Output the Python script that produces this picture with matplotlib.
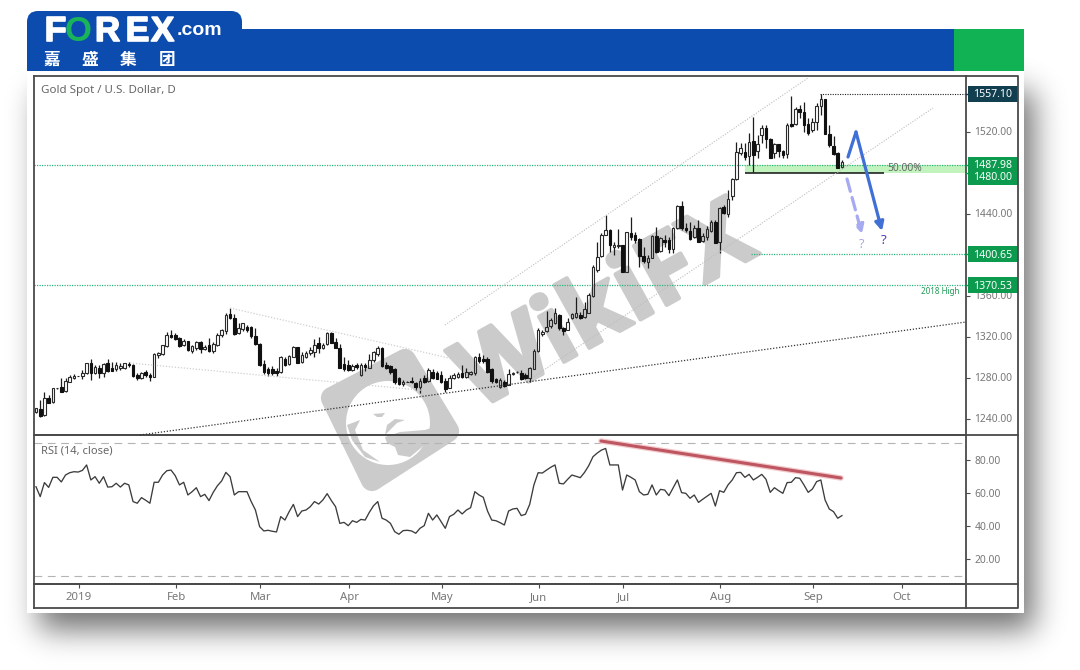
import numpy as np
import matplotlib
matplotlib.use("Agg")
import matplotlib.pyplot as plt
import matplotlib.patheffects as pe
from matplotlib.patches import Rectangle, FancyBboxPatch, Polygon, Circle

plt.rcParams['font.family'] = ['Noto Sans', 'DejaVu Sans']

W, H = 1080, 670

# daily candles
opens = [1246.5,1249.4,1243.9,1260.2,1256.3,1270,1270.9,1267.3,1276.4,1280.3,1281.9,1281.9,1284.5,1295,1285.2,1289.4,1284.5,1295,1289.4,1288.4,
	1289.7,1290.1,1293.7,1292.7,1282.9,1280.3,1285.8,1282.9,1281.3,1302.4,1303.1,1311.2,1321.9,1321.9,1318.7,1312.5,1316.1,1306.7,1309.6,1315.4,
	1308.6,1312.2,1306.7,1312.2,1321.6,1326.2,1342.1,1338.2,1323.6,1327.8,1330.1,1329.4,1321,1313.2,1293.7,1288.4,1288.4,1287.2,1286.2,1298.9,
	1293.3,1300.8,1310.6,
	1295.3,1300.8,1304.1,1305.7,1314.5,1309.6,1313.2,1323.6,1315.4,1309.6,1293.7,1292.7,1287.8,1292.7,1282.9,1292.7,1290.1,1297.6,1303.4,1309.6,
	1292.7,1291.7,1288.4,1279.7,1274.1,1276.4,1277.1,1275.4,1271.5,1280.3,1277.4,1286.2,1285.2,1282.9,1277.4,1270.6,1279.7,1280.9,1284.5,1281.3,
	1284,1284.5,1300.2,1298.2,1298.2,1288.4,1279,1271.5,1276.1,1273.2,1283.6,1285.9,1284.5,1282.9,1279.7,1288.8,1306.7,1322.9,1325.8,1330.7,
	1334,1341.5,1329.1,1326.8,
	1338.2,1339.2,1341.4,1339.8,1343.7,1360,1385.4,1399,1419.5,1424.4,1408.1,1408.8,1409.7,1383.7,1421.8,1419.5,1415.3,1399,1393.5,1396.7,
	1418.9,1404.2,1414.6,1414.6,1405.5,1426,1447.8,1426.3,1423.7,1417.2,1426,1413.6,1417.9,1423.7,1431.9,1413,1446.5,
	1439.7,1457.9,1474.1,1499.2,1500.2,1496.9,1511.2,1501.4,1517.1,1523.6,1513.2,1499.2,1507.9,1501.8,1498.2,1527.5,1527.5,1542.1,1539.2,1527.5,
	1522,1530,1545.7,1552.2,1517.7,1506.7,1499.2,1486.2]
highs = [1251,1258.5,1266.7,1263.4,1270.6,1270.3,1279.7,1279.7,1282.9,1283.6,1282.2,1287.8,1295,1298.2,1292.7,1292.7,1294.3,1298.2,1295.9,1295.9,
	1294.3,1295,1295.9,1293.3,1284.5,1286.2,1287.8,1284.5,1304.1,1305.7,1312.2,1325.2,1326.8,1324.2,1319.7,1317.7,1316.4,1312.2,1316.1,1316.1,
	1312.2,1318.7,1315.4,1323.6,1327.5,1343.1,1348,1342.1,1333.3,1334,1331.7,1330.7,1328.4,1314.5,1297.6,1290.4,1291.7,1289.4,1301.5,1300.2,
	1302.4,1311.2,1310.6,
	1305.7,1306.7,1310.6,1317.7,1320.3,1313.8,1325.2,1325.2,1318.7,1313.2,1300.8,1297.6,1293.3,1294.3,1294.3,1294.3,1303.4,1306.7,1311.2,1310.6,
	1295.9,1292.7,1289.4,1281.3,1278,1276.8,1280.6,1276.4,1279.7,1282.9,1289.4,1288.4,1287.2,1287.2,1279.7,1282.9,1284.5,1286.2,1292.7,1289.4,
	1287.2,1301.5,1304.1,1302.4,1300.2,1289.4,1279.7,1279.7,1278,1288.4,1286.2,1287.2,1287.8,1284.5,1290.4,1308,1328.4,1326.8,1345.4,1338.2,
	1348,1342.1,1330.1,1338.2,
	1343.1,1359.3,1344.7,1354.5,1362.6,1390.2,1413,1421.1,1439,1425,1413,1425,1409.7,1422.8,1437.4,1422.8,1416.2,1408.1,1400,1419.5,
	1427.6,1417.9,1419.5,1417.9,1427.6,1448.8,1452.7,1430.9,1432.5,1429.3,1434.1,1421.1,1428.3,1434.1,1434.1,1447.1,1448.8,
	1463.4,1475.4,1510.6,1508.9,1508.9,1518.7,1535,1517.1,1526.8,1526.8,1513.8,1508.9,1507.9,1502.4,1528.4,1555.4,1544.7,1546.3,1549.6,1533.3,
	1533.3,1548,1557.1,1552.2,1526.8,1516.4,1500.2,1492.7]
lows = [1246.2,1242.3,1242.9,1255.9,1255.9,1269.7,1266.7,1266.7,1275.8,1279.3,1281.6,1279.3,1283.9,1278,1283.6,1280.3,1281.3,1286.2,1287.2,1287.2,
	1287.8,1288.4,1290.4,1281.3,1278,1279,1280.6,1277.4,1280.6,1299.2,1302.4,1310.6,1318.7,1317.1,1310.6,1311.2,1306.7,1304.1,1307.3,1304.7,
	1307.3,1305.7,1304.1,1311.2,1320.3,1322.9,1337.6,1321.9,1322.6,1326.2,1325.2,1318.7,1312.2,1291.7,1283.9,1281.9,1282.6,1281.9,1285.2,1291.7,
	1292.7,1300.2,1294.3,
	1294.3,1299.2,1302.4,1300.2,1304.7,1308.3,1312.2,1313.8,1308.9,1289.4,1287.2,1287.2,1286.8,1288.8,1282.3,1287.2,1289.4,1295.9,1301.5,1291,
	1288.4,1283.9,1274.1,1272.8,1272.2,1276,1274.8,1268.3,1265,1274.8,1276.4,1278.7,1278.7,1275.4,1266.7,1269.9,1278.7,1279.7,1279.7,1280.3,
	1282.9,1282.9,1295,1295,1285.2,1274.8,1274.8,1269.9,1270.9,1272.8,1282.9,1285.2,1278,1279,1276.4,1288.4,1305.7,1321.3,1325.2,1328.4,
	1332.4,1326.8,1321.9,1326.8,
	1337.2,1338.2,1337.2,1338.2,1343.1,1359.3,1383.7,1398.4,1419.5,1403.2,1400,1406.5,1383.7,1383.7,1414.6,1411.4,1387.9,1392.5,1387,1396.7,
	1401.6,1403.2,1408.1,1401.6,1401.6,1425,1424.4,1422.8,1414.6,1416.2,1413,1413,1414.6,1422.8,1412,1401.6,1440,
	1437.4,1453.6,1473.2,1497.6,1492.7,1487.8,1481.3,1494.3,1508.9,1504,1494.3,1494.3,1495.9,1494.3,1494.3,1525.2,1526.8,1533.3,1520.3,1517.1,
	1520.3,1521.9,1536.6,1517.7,1505.7,1497.6,1484.5,1485.2]
closes = [1250.4,1242.9,1260.2,1255.9,1269.9,1270,1266.7,1277.1,1281.3,1282.3,1281.9,1285.2,1294.3,1285.2,1290.4,1284.5,1293.7,1287.2,1287.2,1292.7,
	1291.7,1294.3,1292.4,1282,1280.3,1285.2,1283.2,1280.6,1303.4,1304.7,1312.2,1321.9,1320.3,1317.7,1311.2,1316.4,1307.3,1311.2,1315.4,1308,
	1310.6,1306.7,1313.2,1321.9,1326.8,1341.5,1338.2,1322.9,1328.4,1333.3,1326.8,1321,1313.2,1292.4,1286.2,1284.5,1285.2,1284.5,1300.2,1292.7,
	1301.8,1309.9,1295,
	1302.4,1304.7,1307.3,1312.2,1308.9,1312.2,1324.2,1314.5,1309.6,1290.1,1288.4,1287.8,1292,1290.4,1292.7,1290.4,1297.6,1305,1309.6,1291.7,
	1290.1,1286.2,1276.4,1274.1,1276.4,1276.4,1276.1,1270.9,1277.1,1276.4,1287.8,1279.7,1279.3,1276.4,1268.9,1280.3,1282.9,1283.6,1280.6,1286.2,
	1286.2,1300.8,1296.9,1296.9,1286.2,1277.4,1276.1,1278,1272.2,1283.6,1285.2,1286.2,1278.7,1279.7,1289.4,1306.7,1326.8,1325.2,1330.1,1336.6,
	1343.1,1329.1,1326.2,1334.9,
	1342.4,1343.1,1338.2,1347,1361,1387.9,1398.4,1419.5,1424.4,1409.7,1409.7,1409.7,1383.7,1422.1,1417.9,1414.6,1399,1394.5,1396.7,1418.9,
	1403.2,1416.2,1413,1405.5,1426.6,1447.8,1426,1424.4,1415.6,1426,1413,1418.9,1425,1431.9,1412,1446.2,1440.6,
	1454.6,1474.1,1500.2,1504.7,1495.9,1510.6,1497.6,1507.9,1523.6,1513.2,1494.9,1507.9,1501.4,1497.6,1526.8,1525.8,1542.4,1539.2,1526.8,1518.7,
	1529.4,1545.7,1552.2,1517.7,1507.3,1498.2,1485.2,1490.4]
rsi = [63.8,57.8,66.3,63.4,69.5,69.5,66.7,70.9,72.3,72.9,72.7,73.7,77,67.9,69.9,65.9,69.9,63.6,63.8,65.9,
	63.6,65.9,64.9,54.8,53.8,57.2,55.6,53.8,66.5,66.5,70.9,73.5,73.9,70.5,64.9,66.5,58.8,60.8,63.2,57.8,
	59.2,55.4,60.4,64.4,67.3,72.5,69.9,58.8,60.8,60.8,60.8,54.8,49.7,39.6,37,37.4,36.8,36.4,45.7,43.6,
	48.7,53.1,45.7,49.1,49.7,51.7,54.8,53.3,55.8,59.6,55.4,51.7,41.6,42.2,40.2,43.2,42.2,44,43.6,48.3,
	52.3,54.8,44.7,43.6,41.6,36.6,35,37.2,37.4,37,35.6,38.6,40.2,47.7,43.6,46.7,42.6,38.6,45.7,
	47.1,49.7,47.3,49.7,51.1,60.8,58.8,57.4,49.1,43.6,43.2,42,40.6,49.1,50.3,50.7,46.3,47.1,53.1,64.9,
	72.3,72.1,73.9,75.6,77,65.9,65.5,68.3,70.9,70.1,69.3,72.5,76.6,82,84.2,86,87,77,77,77,
	61.8,70.9,69.5,67.9,60.8,58.8,59.2,64.9,58.8,62.2,61.8,58.4,63.2,67.9,60.2,59.8,56.8,58.8,54.3,56.2,
	58,59.8,52.1,61.4,60.4,64.9,67.9,72.3,72.5,69.5,71.3,67.9,69.5,71.3,68.3,60.4,63.2,61.4,59.8,66.3,
	66.5,69.3,68.9,64.9,60.4,62.4,66.9,67.9,55.8,50.3,48.7,44.7,46.3]

price_ticks = [1520, 1440, 1360, 1320, 1280, 1240]
rsi_ticks = [80, 60, 40, 20]
rsi_bands = [90, 10]
month_pos = [10.2, 33.2, 53.2, 74.2, 96.2, 119.2, 139.2, 162.2, 184.2, 205.2]
month_labels = ['2019', 'Feb', 'Mar', 'Apr', 'May', 'Jun', 'Jul', 'Aug', 'Sep', 'Oct']

DARK_TAG = '#123f50'
GREEN_TAG = '#0b9a4e'
GREY_TXT = '#777777'
LINE = '#4a4a4a'
LEVEL = '#2fb57c'


def px_axes(x0, y0, x1, y1, **kw):
	return fig.add_axes([x0 / W, 1 - y1 / H, (x1 - x0) / W, (y1 - y0) / H], **kw)


fig = plt.figure(figsize=(W / 100, H / 100), dpi=100, facecolor='white')

# back layer: shadow, card, header, watermark
back = fig.add_axes([0, 0, 1, 1], zorder=0)
back.axis('off')

kernel = np.exp(-0.5 * (np.arange(-45, 46) / 15.0) ** 2)
kernel /= kernel.sum()
sx = np.convolve(((np.arange(W) > 38) & (np.arange(W) < 1034)).astype(float), kernel, mode='same')
sy = np.convolve(((np.arange(H) > 90) & (np.arange(H) < 630)).astype(float), kernel, mode='same')
shade = np.outer(sy, sx) * 0.55
back.imshow(1 - shade, cmap='gray', vmin=0, vmax=1, extent=(0, W, H, 0), aspect='auto', zorder=0)
back.set_xlim(0, W)
back.set_ylim(H, 0)

back.add_patch(Rectangle((27, 71), 997, 542, fc='white', ec='none', zorder=1))
back.add_patch(FancyBboxPatch((27, 11), 215, 40, boxstyle='round,pad=0,rounding_size=11', fc='#0b4cae', ec='none', zorder=2))
back.add_patch(Rectangle((27, 29), 997, 42, fc='#0b4cae', ec='none', zorder=2))
back.add_patch(Rectangle((954, 29), 70, 42, fc='#10b254', ec='none', zorder=3))

logo_heavy = [pe.withStroke(linewidth=1.2, foreground='white')]
logo_font = dict(fontsize=25, fontweight='bold', family='Liberation Sans', va='baseline', zorder=4)
back.text(45, 41, 'F', color='white', path_effects=logo_heavy, **logo_font)
back.text(65, 41, 'O', color='#19b45a', **logo_font)
back.text(95, 41, 'R', color='white', path_effects=logo_heavy, **logo_font)
back.text(126, 41, 'E', color='white', path_effects=logo_heavy, **logo_font)
back.text(151, 41, 'X', color='white', path_effects=logo_heavy, **logo_font)
back.text(177, 35, '.com', color='white', fontsize=14, fontweight='bold', family='Liberation Sans', va='baseline', zorder=4)
for cx, ch in zip([52, 90, 128, 167], '嘉盛集团'):
	back.text(cx, 60, ch, color='white', fontsize=12, fontweight='bold', family=['Noto Sans CJK SC'], ha='center', va='center', zorder=4)

# watermark
mark = '#cbcbcb'
back.add_patch(Polygon([(332, 398), (405, 360), (448, 431), (372, 480)], closed=True, fc=mark, ec=mark, lw=16, joinstyle='round', zorder=5))
back.add_patch(Circle((388, 423), 42, fc='white', ec='none', zorder=6))
back.add_patch(Polygon([(373, 414), (385, 413), (382, 417), (377, 417)], closed=True, fc=mark, ec='none', zorder=7))
back.add_patch(Polygon([(385, 435), (397, 423), (405, 420), (395, 419), (387, 425)], closed=True, fc=mark, ec='none', zorder=7))
back.add_patch(Polygon([(385, 437), (400, 432), (425, 430), (431, 428), (427, 443), (410, 457), (398, 455), (395, 447), (387, 443)], closed=True, fc=mark, ec='none', zorder=7))
back.add_patch(Polygon([(347, 425), (360, 420), (355, 430), (363, 450), (380, 462), (365, 457), (352, 440)], closed=True, fc=mark, ec='none', zorder=7))
back.text(607, 310, 'WikiFX', color=mark, fontsize=68, fontweight='bold', family='Open Sans', rotation=29,
	rotation_mode='anchor', ha='center', va='center', zorder=5,
	path_effects=[pe.withStroke(linewidth=3, foreground=mark)])

# price panel
ax = px_axes(33.5, 76, 966, 435, zorder=1)
ax.patch.set_visible(False)
xlim = (-0.59, 220.4)
ax.set_xlim(*xlim)
ax.set_ylim(1224.4, 1574.66)

idx = np.arange(len(closes))
o = np.array(opens)
c = np.array(closes)
top = np.maximum(o, c)
bot = np.minimum(o, c)
up = c >= o
ax.vlines(idx, top, highs, color='#1c1c1c', lw=0.9, zorder=3)
ax.vlines(idx, lows, bot, color='#1c1c1c', lw=0.9, zorder=3)
ax.bar(idx[up], (top - bot)[up], bottom=bot[up], width=0.62, fc='none', ec='#2a2a2a', lw=0.8, zorder=3)
ax.bar(idx[~up], (top - bot)[~up], bottom=bot[~up], width=0.62, fc='#111111', ec='#111111', lw=0.8, zorder=3)

ax.axhline(1487.98, color=LEVEL, lw=0.9, ls=(0, (1, 1)), zorder=2)
ax.axhline(1370.53, color=LEVEL, lw=0.9, ls=(0, (1, 1)), zorder=2)
ax.hlines(1400.65, 169.5, xlim[1], color=LEVEL, lw=0.9, ls=(0, (1, 1)), zorder=2)
ax.hlines(1557.10, 185.8, xlim[1], color='#222222', lw=0.8, ls=(0, (1, 1.2)), zorder=2)
ax.fill_between([168.0, xlim[1]], 1480.0, 1487.98, color='#c2f2bd', lw=0, zorder=1)
ax.hlines(1480.0, 168.0, 201.0, color='#111111', lw=1.1, zorder=4)

ax.yaxis.tick_right()
ax.set_yticks(price_ticks)
ax.set_yticklabels(['%.2f' % v for v in price_ticks], color=GREY_TXT, fontsize=7.4, va='center')
ax.tick_params(axis='y', length=3, width=0.8, color=LINE, pad=3)
ax.set_xticks([])
for name, sp in ax.spines.items():
	sp.set_color(LINE)
	sp.set_linewidth(1.3)
ax.text(41, 91, 'Gold Spot / U.S. Dollar, D', color='#666666', fontsize=8.3, fontweight='medium', va='center',
	transform=back.transData, zorder=8)

# right side tags
tags = [('1557.10', 1557.10, 1557.10, DARK_TAG), ('1487.98', 1487.98, 1487.98, GREEN_TAG), ('1480.00', 1480.00, 1476.0, GREEN_TAG),
	('1400.65', 1400.65, 1400.65, GREEN_TAG), ('1370.53', 1370.53, 1370.53, GREEN_TAG)]
tr = ax.get_yaxis_transform()
for label, level, ypos, col in tags:
	ax.add_patch(Rectangle((1.0022, ypos - 7.8), 0.0536, 15.6, transform=tr, fc=col, ec='none', clip_on=False, zorder=6))
	ax.plot([1.0, 1.0035], [level, level], transform=tr, color=col, lw=1, clip_on=False, zorder=6)
	ax.text(1.0285, ypos - 0.8, label, transform=tr, color='white', fontsize=7.6, fontweight='bold', ha='center', va='center', clip_on=False, zorder=7)

# rsi panel
ax2 = px_axes(33.5, 435, 966, 584, zorder=1)
ax2.patch.set_visible(False)
ax2.set_xlim(*xlim)
ax2.set_ylim(4.85, 95.15)
ax2.plot(np.arange(len(rsi)), rsi, color='#3c3c3c', lw=0.95, zorder=3)
for b in rsi_bands:
	ax2.axhline(b, color='#b4b4b4', lw=0.8, ls=(0, (7, 5)), zorder=2)
ax2.yaxis.tick_right()
ax2.set_yticks(rsi_ticks)
ax2.set_yticklabels(['%.2f' % v for v in rsi_ticks], color=GREY_TXT, fontsize=7.4)
ax2.tick_params(axis='y', length=3, width=0.8, color=LINE, pad=3)
ax2.set_xticks([])
for sp in ax2.spines.values():
	sp.set_color(LINE)
	sp.set_linewidth(1.3)
ax2.text(41, 451, 'RSI (14, close)', color='#666666', fontsize=8, va='center', transform=back.transData, zorder=8)

# date axis
ax3 = px_axes(33.5, 584, 966, 608, zorder=1)
ax3.patch.set_visible(False)
ax3.set_xlim(*xlim)
ax3.set_yticks([])
ax3.set_xticks(month_pos)
ax3.set_xticklabels(month_labels, color=GREY_TXT, fontsize=8.2)
ax3.xaxis.tick_top()
ax3.tick_params(axis='x', direction='in', length=3, width=0.8, color=LINE, pad=-14)
for sp in ax3.spines.values():
	sp.set_color(LINE)
	sp.set_linewidth(1.3)

# top layer: frame of the scale column, drawn lines and arrows
over = fig.add_axes([0, 0, 1, 1], zorder=2)
over.patch.set_visible(False)
over.set_xlim(0, W)
over.set_ylim(H, 0)
over.axis('off')

over.plot([966, 1018, 1018, 966], [76, 76, 608, 608], color=LINE, lw=1.3)
over.plot([966, 1018], [435, 435], color=LINE, lw=1.3)
over.plot([966, 1018], [584, 584], color=LINE, lw=1.3)

dots = (0, (1, 1.4))
over.plot([445, 808], [325, 78], color='#bdbdbd', lw=0.8, ls=dots)
over.plot([532, 933], [378, 108], color='#bdbdbd', lw=0.8, ls=dots)
over.plot([230, 462], [308, 361], color='#cfcfcf', lw=0.9, ls=dots)
over.plot([130, 430], [363, 391], color='#cfcfcf', lw=0.9, ls=dots)
over.plot([140, 966], [435, 322], color='#333333', lw=0.9, ls=dots)

over.plot([601, 841], [441, 478], color='#f3c9cc', lw=4, solid_capstyle='round')
over.plot([601, 841], [441, 478], color='#bd5660', lw=2.2, solid_capstyle='round')

over.plot([848, 856], [157, 132], color='#4070d6', lw=2.3, solid_capstyle='round')
over.annotate('', xy=(882, 231), xytext=(856, 132), arrowprops=dict(arrowstyle='-|>', color='#4070d6', lw=2.3, mutation_scale=13, shrinkA=0, shrinkB=0))
over.annotate('', xy=(862, 234), xytext=(847, 179), arrowprops=dict(arrowstyle='-|>', color='#a6aaf0', lw=2.3, ls=(0, (4, 2)), mutation_scale=13, shrinkA=0, shrinkB=0))
over.text(862, 245, '?', color='#a6a6ea', fontsize=9, fontweight='bold', ha='center', va='center')
over.text(884, 241, '?', color='#4a3fb5', fontsize=9.5, fontweight='bold', ha='center', va='center')
over.text(905, 168.5, '50.00%', color='#666666', fontsize=7.4, ha='center', va='center')
over.text(940, 291, '2018 High', color='#1f9a55', fontsize=5.8, ha='center', va='center')

fig.savefig('out.png', dpi=100)
